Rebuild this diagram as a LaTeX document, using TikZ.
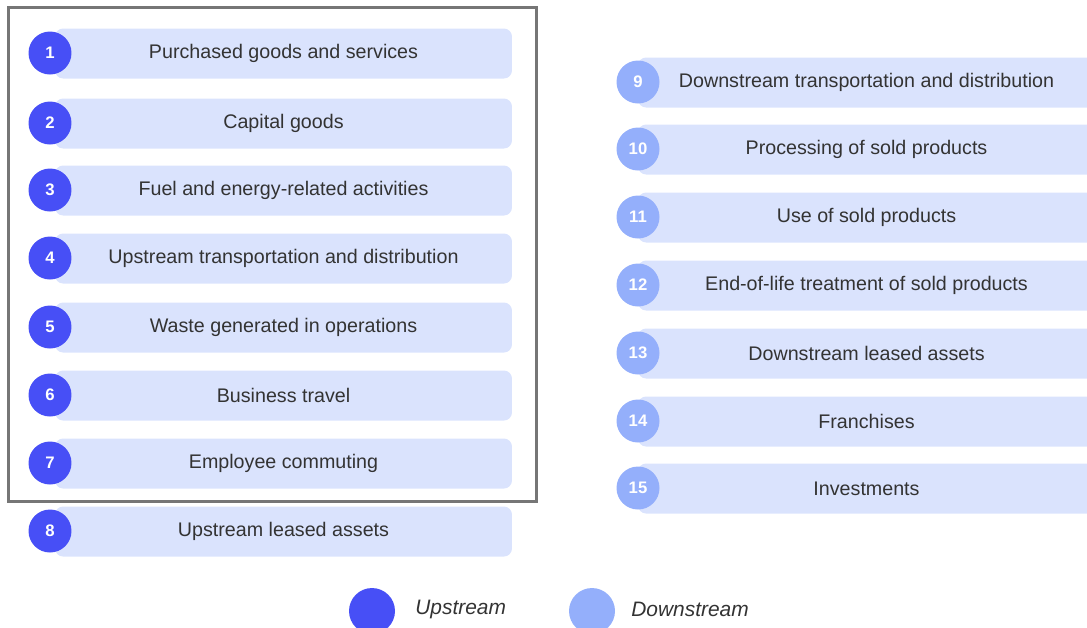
\documentclass[tikz,border=0pt]{standalone}
\usepackage{fontspec}
\setmainfont{Liberation Sans}
\usepackage{xcolor}
\usepackage{tikz}
\usetikzlibrary{positioning}

\definecolor{upblue}{HTML}{474FF6}
\definecolor{downblue}{HTML}{94AFFB}
\definecolor{barfill}{HTML}{DAE3FD}
\definecolor{labeltext}{HTML}{333333}
\definecolor{framegray}{HTML}{767676}

\begin{document}
\begin{tikzpicture}[x=0.02cm,y=-0.02cm,
    bar/.style={fill=barfill,rounded corners=0.16cm,minimum width=9.14cm,minimum height=1cm,
        text=labeltext,font=\fontsize{11.2}{13}\selectfont},
    upnum/.style={circle,fill=upblue,minimum size=0.86cm,inner sep=0pt,text=white,
        font=\fontsize{9.5}{10}\selectfont\bfseries},
    downnum/.style={upnum,fill=downblue},
    legendtext/.style={anchor=west,inner sep=0pt,text=labeltext,font=\fontsize{11.9}{14}\selectfont\itshape}]
        % picture size
        \clip (0,0) rectangle (1087,627);
        % upstream categories
        \node[bar](c1) at (283.5,53.5){Purchased goods and services};
        \node[bar](c2) at (283.5,123.5){Capital goods};
        \node[bar](c3) at (283.5,190.5){Fuel and energy-related activities};
        \node[bar](c4) at (283.5,258.5){Upstream transportation and distribution};
        \node[bar](c5) at (283.5,327.5){Waste generated in operations};
        \node[bar](c6) at (283.5,395.5){Business travel};
        \node[bar](c7) at (283.5,463.5){Employee commuting};
        \node[bar](c8) at (283.5,531.5){Upstream leased assets};
        \node[upnum](n1) at (50,53){1};
        \node[upnum](n2) at (50,123){2};
        \node[upnum](n3) at (50,190){3};
        \node[upnum](n4) at (50,258){4};
        \node[upnum](n5) at (50,327){5};
        \node[upnum](n6) at (50,395){6};
        \node[upnum](n7) at (50,463){7};
        \node[upnum](n8) at (50,531){8};
        % downstream categories
        \node[bar](c9) at (866.5,82.5){Downstream transportation and distribution};
        \node[bar](c10) at (866.5,149.5){Processing of sold products};
        \node[bar](c11) at (866.5,217.5){Use of sold products};
        \node[bar](c12) at (866.5,285.5){End-of-life treatment of sold products};
        \node[bar](c13) at (866.5,353.5){Downstream leased assets};
        \node[bar](c14) at (866.5,421.5){Franchises};
        \node[bar](c15) at (866.5,488.5){Investments};
        \node[downnum](n9) at (638,82){9};
        \node[downnum](n10) at (638,149){10};
        \node[downnum](n11) at (638,217){11};
        \node[downnum](n12) at (638,285){12};
        \node[downnum](n13) at (638,353){13};
        \node[downnum](n14) at (638,421){14};
        \node[downnum](n15) at (638,488){15};
        % frame round 1-7
        \draw[framegray,line width=1.6pt] (8.5,7.5) rectangle (536.5,501.5);
        % legend
        \node[upnum,minimum size=0.92cm](upkey) at (372,611){};
        \node[legendtext](uplabel) at (415,609){Upstream};
        \node[downnum,minimum size=0.92cm](downkey) at (592,611){};
        \node[legendtext](downlabel) at (631,609){Downstream};
    \end{tikzpicture}
\end{document}
